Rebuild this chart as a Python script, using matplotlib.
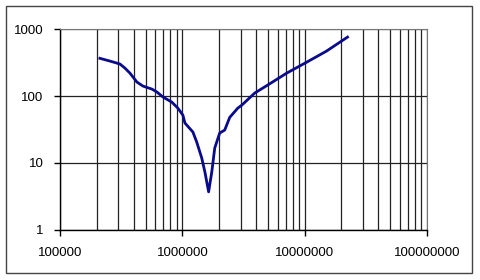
import matplotlib.pyplot as plt
from matplotlib.ticker import LogLocator, FuncFormatter, NullFormatter
from matplotlib.patches import Rectangle

plt.rcParams['font.family'] = ['Liberation Sans', 'DejaVu Sans']

freq = [2.12e5, 2.56e5, 3.09e5, 3.39e5, 3.73e5, 4.25e5, 4.76e5, 5.64e5, 6.19e5,
        6.93e5, 8.21e5, 9.19e5, 1.01e6, 1.05e6, 1.22e6, 1.31e6, 1.44e6, 1.53e6,
        1.64e6, 1.74e6, 1.84e6, 2.02e6, 2.22e6, 2.44e6, 2.84e6, 3.06e6, 3.91e6,
        4.99e6, 7.13e6, 1.04e7, 1.51e7, 2.24e7]
value = [366, 333, 301, 262, 220, 162, 141, 127, 115,
         97, 81, 66, 52, 39.5, 29, 20.6, 11.9, 7.3,
         3.7, 7.3, 16.7, 28, 31, 48, 66, 73, 111,
         146, 220, 321, 470, 760]

fig = plt.figure(figsize=(4.8, 2.8), dpi=100)
ax = fig.add_axes([0.125, 0.179, 0.7646, 0.717])
fig.patches.append(Rectangle((6/480, 7/280), 466/480, 267/280, transform=fig.transFigure,
                             fill=False, edgecolor='#444444', lw=1))

ax.plot(freq, value, color='#0a0a8c', lw=2)
ax.set_xscale('log')
ax.set_yscale('log')
ax.set_xlim(1e5, 1e8)
ax.set_ylim(1, 1000)

ax.xaxis.set_major_locator(LogLocator(base=10, numticks=10))
ax.xaxis.set_minor_locator(LogLocator(base=10, subs=range(2, 10), numticks=30))
ax.yaxis.set_minor_locator(LogLocator(base=10, subs=[], numticks=10))
fmt = FuncFormatter(lambda v, p: '%d' % round(v))
ax.xaxis.set_major_formatter(fmt)
ax.yaxis.set_major_formatter(fmt)
ax.xaxis.set_minor_formatter(NullFormatter())
ax.grid(True, which='major', color='#222222', lw=0.9)
ax.grid(True, which='minor', axis='x', color='#222222', lw=0.9)
ax.tick_params(which='major', direction='out', length=4, width=1, labelsize=9.5, pad=8)
ax.tick_params(which='minor', length=0)
for s in ['top', 'right']:
    ax.spines[s].set_color('#777777')
for s in ['left', 'bottom']:
    ax.spines[s].set_color('black')
    ax.spines[s].set_linewidth(1)

fig.savefig('out.png', dpi=100)
